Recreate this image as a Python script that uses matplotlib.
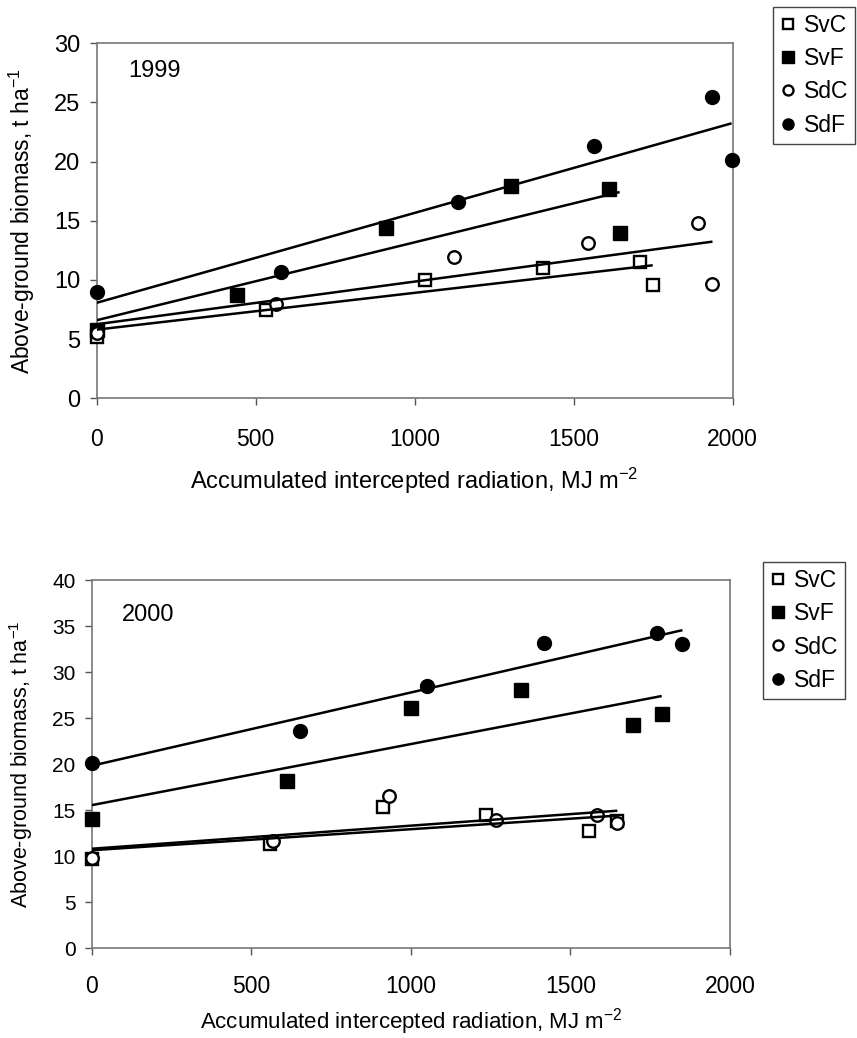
import numpy as np
import matplotlib
matplotlib.use("Agg")
import matplotlib.pyplot as plt
from matplotlib.lines import Line2D

# ---------------- data ----------------
series_names = ["SvC", "SvF", "SdC", "SdF"]

# 1999
svc99_x = [0, 534, 1033, 1403, 1708, 1749]
svc99_y = [5.2, 7.5, 10.0, 11.0, 11.5, 9.6]
svf99_x = [0, 440, 911, 1303, 1611, 1645]
svf99_y = [5.8, 8.7, 14.4, 17.9, 17.7, 14.0]
sdc99_x = [0, 565, 1124, 1545, 1890, 1937]
sdc99_y = [5.5, 8.0, 11.9, 13.1, 14.8, 9.7]
sdf99_x = [0, 581, 1137, 1563, 1934, 1997]
sdf99_y = [9.0, 10.7, 16.6, 21.3, 25.5, 20.1]

# 2000
svc00_x = [0, 559, 912, 1235, 1558, 1647]
svc00_y = [9.7, 11.3, 15.4, 14.5, 12.7, 13.8]
svf00_x = [0, 613, 999, 1345, 1695, 1786]
svf00_y = [14.0, 18.2, 26.1, 28.0, 24.3, 25.4]
sdc00_x = [0, 567, 930, 1267, 1582, 1647]
sdc00_y = [9.8, 11.6, 16.5, 13.9, 14.5, 13.6]
sdf00_x = [0, 652, 1050, 1417, 1772, 1851]
sdf00_y = [20.1, 23.6, 28.5, 33.2, 34.2, 33.0]

x_ticks = [0, 500, 1000, 1500, 2000]
y_ticks_99 = [0, 5, 10, 15, 20, 25, 30]
y_ticks_00 = [0, 5, 10, 15, 20, 25, 30, 35, 40]

# ---------------- style ----------------
plt.rcParams["font.family"] = ["Liberation Sans", "DejaVu Sans"]
plt.rcParams["mathtext.fontset"] = "custom"
plt.rcParams["mathtext.rm"] = "Liberation Sans"
plt.rcParams["mathtext.it"] = "Liberation Sans:italic"

marker_styles = {
    "SvC": dict(marker="s", mfc="white", mec="black", mew=1.7, ms=9),
    "SvF": dict(marker="s", mfc="black", mec="black", mew=1.0, ms=10),
    "SdC": dict(marker="o", mfc="white", mec="black", mew=1.7, ms=9),
    "SdF": dict(marker="o", mfc="black", mec="black", mew=1.0, ms=10),
}

W, H = 857, 1038
fig = plt.figure(figsize=(W / 100, H / 100), dpi=100)


def px_rect(l, r, t, b):
    return [l / W, 1 - b / H, (r - l) / W, (b - t) / H]


def draw_panel(ax, data, ylim, yticks, year, tick_fs, ylab_fs, xpad, ypad,
               ylab_x, xlab_y, xlab_fs, year_pos):
    for name, (xs, ys) in zip(series_names, data):
        ax.plot(xs, ys, linestyle="none", clip_on=False, zorder=3,
                **marker_styles[name])
    for name, (xs, ys) in zip(series_names, data):
        k, b = np.polyfit(xs, ys, 1)
        xl = np.array([0.0, max(xs)])
        ax.plot(xl, k * xl + b, color="black", lw=1.8, zorder=4,
                solid_capstyle="butt")
    ax.set_xlim(0, 2000)
    ax.set_ylim(*ylim)
    ax.set_xticks(x_ticks)
    ax.set_yticks(yticks)
    for lab in ax.get_xticklabels():
        lab.set_fontsize(16.5)
    for lab in ax.get_yticklabels():
        lab.set_fontsize(tick_fs)
    ax.tick_params(axis="both", direction="out", length=5, width=1.0,
                   color="#555555")
    ax.tick_params(axis="x", pad=xpad)
    ax.tick_params(axis="y", pad=ypad)
    for sp in ax.spines.values():
        sp.set_color("#777777")
        sp.set_linewidth(1.2)
    ax.set_ylabel(r"Above-ground biomass, t ha$^{-1}$", fontsize=ylab_fs)
    ax.yaxis.set_label_coords(ylab_x, 0.5)
    ax.set_xlabel(r"Accumulated intercepted radiation, MJ m$^{-2}$",
                  fontsize=xlab_fs)
    ax.xaxis.set_label_coords(0.5, xlab_y)
    ax.text(year_pos[0], year_pos[1], year, transform=ax.transAxes,
            fontsize=17, ha="left", va="center")


ax1 = fig.add_axes(px_rect(96.7, 732.5, 43.3, 398.3))
draw_panel(ax1,
           [(svc99_x, svc99_y), (svf99_x, svf99_y),
            (sdc99_x, sdc99_y), (sdf99_x, sdf99_y)],
           (0, 30), y_ticks_99, "1999", 17, 16.5, 16.5, 7.0,
           -0.094, -0.19, 17, (0.049, 0.922))

ax2 = fig.add_axes(px_rect(91.7, 730.0, 580.0, 948.3))
draw_panel(ax2,
           [(svc00_x, svc00_y), (svf00_x, svf00_y),
            (sdc00_x, sdc00_y), (sdf00_x, sdf00_y)],
           (0, 40), y_ticks_00, "2000", 15, 15.5, 14.4, 6.7,
           -0.089, -0.158, 16, (0.047, 0.905))


def add_legend(left_px, top_px):
    handles = []
    for name in series_names:
        st = dict(marker_styles[name])
        st["ms"] = st["ms"] * 0.8
        handles.append(Line2D([], [], linestyle="none", **st))
    leg = fig.legend(handles, series_names, loc="upper left",
                     bbox_to_anchor=(left_px / W, 1 - top_px / H),
                     bbox_transform=fig.transFigure, borderaxespad=0,
                     fontsize=16.5, frameon=True, fancybox=False,
                     framealpha=1, edgecolor="#444444", borderpad=0.3,
                     handlelength=0.7, handletextpad=0.35,
                     labelspacing=0.45)
    leg.get_frame().set_linewidth(1.0)
    return leg


add_legend(773, 7)
add_legend(763, 562)

fig.savefig("out.png", dpi=100)
